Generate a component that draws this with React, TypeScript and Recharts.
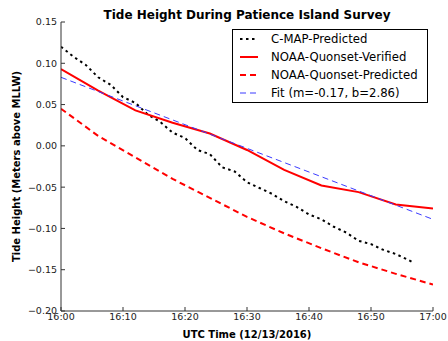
import { Label, Line, LineChart, XAxis, YAxis } from "recharts";

const FONT = "'DejaVu Sans', sans-serif";

// minutes after 16:00 UTC
const cmapMinutes = [0, 2, 4, 6, 8, 10, 12, 14, 16, 18, 20, 22, 24, 26, 28, 30, 32, 34, 36, 38, 40, 42, 44, 46, 48, 50, 52, 54, 56, 57];
const cmapValues = [
  0.12, 0.108, 0.098, 0.083, 0.074, 0.059, 0.052, 0.038, 0.029, 0.016, 0.0095, -0.005, -0.01, -0.026, -0.031,
  -0.044, -0.051, -0.058, -0.067, -0.074, -0.083, -0.089, -0.098, -0.105, -0.115, -0.119, -0.126, -0.131, -0.138, -0.142,
];

const noaaMinutes = [0, 6, 12, 18, 24, 30, 36, 42, 48, 54, 60];
const verifiedValues = [0.093, 0.067, 0.043, 0.028, 0.015, -0.005, -0.029, -0.048, -0.056, -0.071, -0.076];
const predictedValues = [0.045, 0.012, -0.014, -0.04, -0.063, -0.086, -0.106, -0.124, -0.141, -0.155, -0.168];

const fitMinutes = [0, 60];
const fitValues = [0.083, -0.089];

const xTicks = [0, 10, 20, 30, 40, 50, 60];
const xTickLabels = ["16:00", "16:10", "16:20", "16:30", "16:40", "16:50", "17:00"];
const yTicks = [-0.2, -0.15, -0.1, -0.05, 0, 0.05, 0.1, 0.15];

const cmapData = cmapMinutes.map((m, i) => ({ m, v: cmapValues[i] }));
const verifiedData = noaaMinutes.map((m, i) => ({ m, v: verifiedValues[i] }));
const predictedData = noaaMinutes.map((m, i) => ({ m, v: predictedValues[i] }));
const fitData = fitMinutes.map((m, i) => ({ m, v: fitValues[i] }));

const CMAP_DASH = "2.5 3.5";
const NOAA_DASH = "6 4";
const FIT_DASH = "6 4";

const legendItems = [
  { name: "C-MAP-Predicted", color: "#000000", dash: CMAP_DASH, width: 2 },
  { name: "NOAA-Quonset-Verified", color: "#ff0000", dash: undefined, width: 2 },
  { name: "NOAA-Quonset-Predicted", color: "#ff0000", dash: NOAA_DASH, width: 2 },
  { name: "Fit (m=-0.17, b=2.86)", color: "#3b3bff", dash: FIT_DASH, width: 1 },
];

function formatY(v: number) {
  return v.toFixed(2).replace("-", "\u2212");
}

function formatX(v: number) {
  return xTickLabels[xTicks.indexOf(v)] ?? "";
}

function LegendBox() {
  return (
    <div
      style={{
        position: "absolute",
        left: 232,
        top: 29,
        width: 194,
        height: 72,
        border: "1px solid #000",
        background: "#fff",
        fontFamily: FONT,
        fontSize: 11.7,
        color: "#000",
        whiteSpace: "nowrap",
      }}
    >
      {legendItems.map((it) => (
        <div key={it.name} style={{ display: "flex", alignItems: "center", height: 18 }}>
          <svg width={31} height={10} style={{ marginLeft: 7, flexShrink: 0 }}>
            <line x1={0} y1={5} x2={18} y2={5} stroke={it.color} strokeWidth={it.width} strokeDasharray={it.dash} />
          </svg>
          <span>{it.name}</span>
        </div>
      ))}
    </div>
  );
}

const noTick = () => <g />;

export default function App() {
  return (
    <div style={{ position: "absolute", left: 0, top: 0, width: 448, height: 341, background: "#fff" }}>
      <div
        style={{
          position: "absolute",
          left: 61,
          width: 372,
          top: 8,
          textAlign: "center",
          fontFamily: FONT,
          fontWeight: "bold",
          fontSize: 12,
          lineHeight: "14px",
          color: "#000",
        }}
      >
        Tide Height During Patience Island Survey
      </div>
      <LineChart width={448} height={341} margin={{ top: 22, right: 15, bottom: 0, left: 0 }}>
        <XAxis
          xAxisId="b"
          type="number"
          dataKey="m"
          domain={[0, 60]}
          ticks={xTicks}
          tickFormatter={formatX}
          height={30}
          stroke="#333"
          tickSize={-4}
          tickMargin={6}
          tick={{ fill: "#222", fontSize: 9.5, fontFamily: FONT }}
          allowDataOverflow
        >
          <Label
            value="UTC Time (12/13/2016)"
            position="insideBottom"
            offset={3}
            style={{ fontFamily: FONT, fontWeight: "bold", fontSize: 10, fill: "#000" }}
          />
        </XAxis>
        <XAxis
          xAxisId="t"
          orientation="top"
          type="number"
          dataKey="m"
          domain={[0, 60]}
          ticks={xTicks}
          height={0}
          stroke="#333"
          tickSize={-4}
          tick={noTick}
          allowDataOverflow
        />
        <YAxis
          yAxisId="l"
          type="number"
          domain={[-0.2, 0.15]}
          ticks={yTicks}
          tickFormatter={formatY}
          width={61}
          stroke="#333"
          tickSize={-4}
          tickMargin={8}
          tick={{ fill: "#222", fontSize: 9.5, fontFamily: FONT }}
          allowDataOverflow
        >
          <Label
            value="Tide Height (Meters above MLLW)"
            angle={-90}
            position="insideLeft"
            offset={16}
            style={{ fontFamily: FONT, fontWeight: "bold", fontSize: 10, fill: "#000", textAnchor: "middle" }}
          />
        </YAxis>
        <YAxis
          yAxisId="r"
          orientation="right"
          type="number"
          domain={[-0.2, 0.15]}
          ticks={yTicks}
          width={0}
          stroke="#333"
          tickSize={-4}
          tick={noTick}
          allowDataOverflow
        />
        <Line
          xAxisId="b"
          yAxisId="l"
          data={cmapData}
          dataKey="v"
          stroke="#000"
          strokeWidth={2}
          strokeDasharray={CMAP_DASH}
          dot={false}
          isAnimationActive={false}
        />
        <Line
          xAxisId="b"
          yAxisId="l"
          data={verifiedData}
          dataKey="v"
          stroke="#ff0000"
          strokeWidth={2}
          dot={false}
          isAnimationActive={false}
        />
        <Line
          xAxisId="b"
          yAxisId="l"
          data={predictedData}
          dataKey="v"
          stroke="#ff0000"
          strokeWidth={2}
          strokeDasharray={NOAA_DASH}
          dot={false}
          isAnimationActive={false}
        />
        <Line
          xAxisId="b"
          yAxisId="l"
          data={fitData}
          dataKey="v"
          stroke="#3b3bff"
          strokeWidth={1}
          strokeDasharray={FIT_DASH}
          dot={false}
          isAnimationActive={false}
        />
      </LineChart>
      <LegendBox />
    </div>
  );
}
